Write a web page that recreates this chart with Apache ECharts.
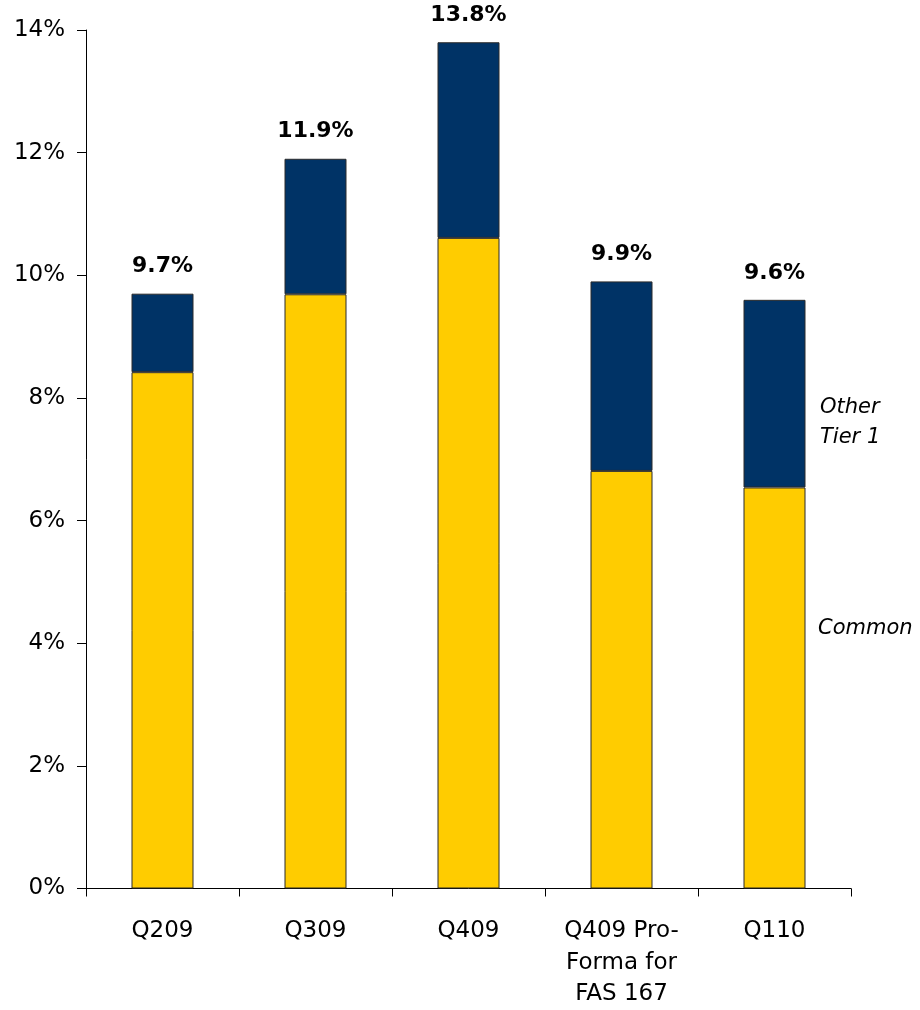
<!DOCTYPE html>
<html>
<head>
<meta charset="utf-8">
<script src="https://cdn.jsdelivr.net/npm/echarts@6/dist/echarts.min.js"></script>
<style>
  html, body { margin: 0; padding: 0; background: #ffffff; overflow: hidden; }
  #chart { width: 920px; height: 1010px; }
</style>
</head>
<body>
<div id="chart"></div>
<script>
// Tier 1 capital ratio by quarter, split into common and other tier 1
const categories = ['Q209', 'Q309', 'Q409', 'Q409 Pro-\nForma for\nFAS 167', 'Q110'];
const commonRatio = [8.42, 9.69, 10.61, 6.81, 6.54];
const totalRatio = [9.7, 11.9, 13.8, 9.9, 9.6];
const otherTier1Ratio = totalRatio.map((t, i) => Math.round((t - commonRatio[i]) * 100) / 100);
const yTicks = [0, 2, 4, 6, 8, 10, 12, 14];

const FONT = '"DejaVu Sans", "Noto Sans", sans-serif';
const YELLOW = '#FFCC00';
const NAVY = '#003366';
const EDGE = '#2b2b2b';

const chart = echarts.init(document.getElementById('chart'), null, { renderer: 'canvas' });
const plotBottom = chart.getHeight() - 896;

chart.setOption({
  backgroundColor: '#ffffff',
  animation: false,
  grid: { left: 86, right: 69, top: 30, bottom: plotBottom, containLabel: false },
  xAxis: {
    type: 'category',
    data: categories,
    axisLine: { lineStyle: { color: '#000', width: 1 } },
    axisTick: { show: true, length: 8, lineStyle: { color: '#000' } },
    axisLabel: {
      color: '#000', fontFamily: FONT, fontSize: 23, lineHeight: 31.5,
      margin: 27, interval: 0
    },
    splitLine: { show: false }
  },
  yAxis: {
    type: 'value',
    min: yTicks[0],
    max: yTicks[yTicks.length - 1],
    interval: 2,
    axisLine: { show: true, lineStyle: { color: '#000', width: 1 } },
    axisTick: { show: true, length: 9, lineStyle: { color: '#000' } },
    axisLabel: {
      color: '#000', fontFamily: FONT, fontSize: 23, margin: 21,
      formatter: v => v + '%'
    },
    splitLine: { show: false }
  },
  series: [
    {
      name: 'Common',
      type: 'bar',
      stack: 'tier1',
      barWidth: 62,
      itemStyle: { color: YELLOW, borderColor: EDGE, borderWidth: 1 },
      data: commonRatio
    },
    {
      name: 'Other Tier 1',
      type: 'bar',
      stack: 'tier1',
      barWidth: 62,
      itemStyle: { color: NAVY, borderColor: EDGE, borderWidth: 1 },
      label: {
        show: true,
        position: 'top',
        distance: 16,
        color: '#000',
        fontFamily: FONT,
        fontSize: 22,
        fontWeight: 'bold',
        formatter: p => totalRatio[p.dataIndex].toFixed(1) + '%'
      },
      data: otherTier1Ratio
    }
  ],
  graphic: [
    {
      type: 'text', x: 820, y: 408,
      style: { text: 'Other', fill: '#000', font: 'italic 21px ' + FONT, verticalAlign: 'middle' }
    },
    {
      type: 'text', x: 820, y: 438,
      style: { text: 'Tier 1', fill: '#000', font: 'italic 21px ' + FONT, verticalAlign: 'middle' }
    },
    {
      type: 'text', x: 818, y: 629,
      style: { text: 'Common', fill: '#000', font: 'italic 21px ' + FONT, verticalAlign: 'middle' }
    }
  ]
});
</script>
</body>
</html>
